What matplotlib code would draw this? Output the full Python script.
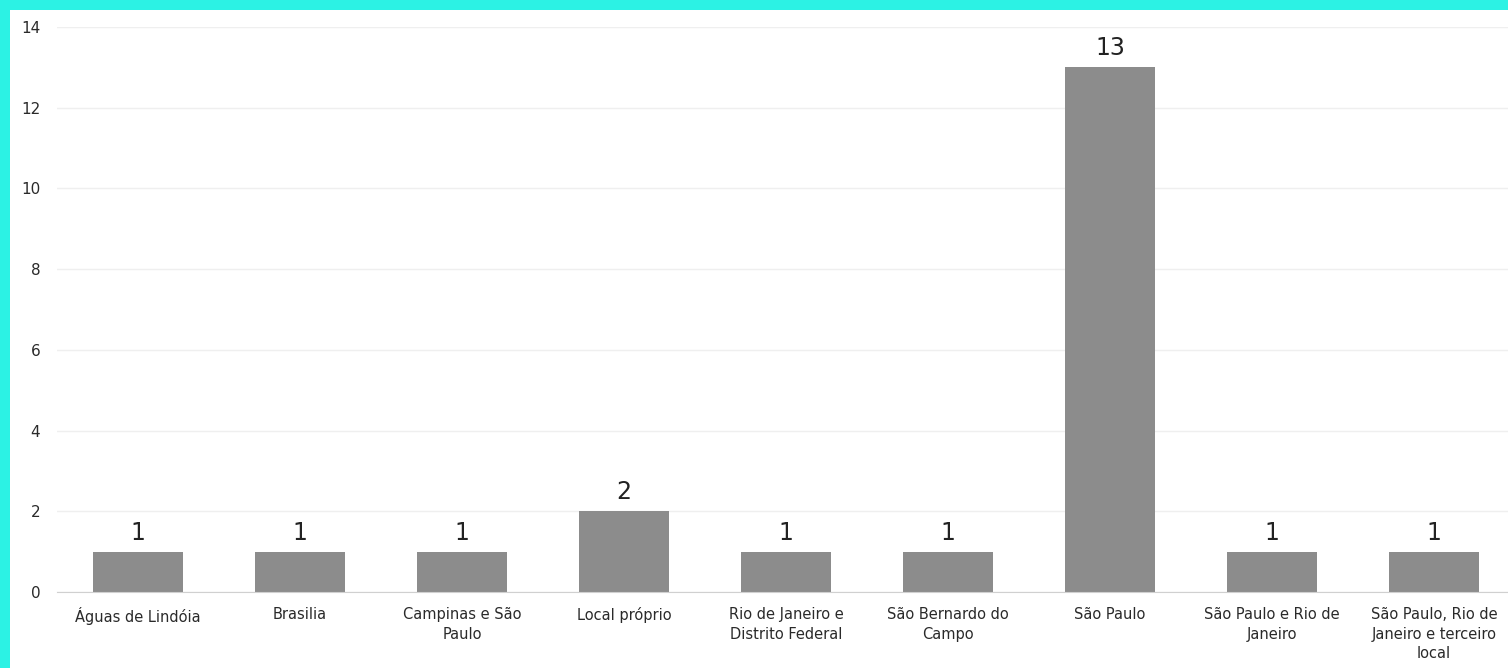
import numpy as np
import matplotlib
matplotlib.use("Agg")
import matplotlib.pyplot as plt
from matplotlib.patches import Rectangle

categories = ["Águas de Lindóia", "Brasilia", "Campinas e São\nPaulo", "Local próprio",
              "Rio de Janeiro e\nDistrito Federal", "São Bernardo do\nCampo", "São Paulo",
              "São Paulo e Rio de\nJaneiro", "São Paulo, Rio de\nJaneiro e terceiro\nlocal"]
counts = [1, 1, 1, 2, 1, 1, 13, 1, 1]
yticks = [0, 2, 4, 6, 8, 10, 12, 14]

plt.rcParams['font.family'] = ['DejaVu Sans']

W, H = 1508, 668
fig = plt.figure(figsize=(W/100, H/100), dpi=100, facecolor="#2cf2e4")
fig.patches.append(Rectangle((10/W, 0), 1, (H-10)/H, transform=fig.transFigure,
                             facecolor="white", edgecolor="none", zorder=-10))

ax = fig.add_axes([57/W, 76/H, (1515-57)/W, (592-27)/H])
ax.set_facecolor("none")
x = np.arange(len(categories))
ax.bar(x, counts, width=0.555, color="#8c8c8c", zorder=3)
for xi, v in zip(x, counts):
    ax.text(xi, v + 0.3, str(v), ha="center", va="baseline", fontsize=17, color="#222222")

ax.set_xlim(-0.5, len(categories) - 0.5)
ax.set_ylim(0, 14)
ax.set_yticks(yticks)
ax.set_xticks(x)
ax.set_xticklabels(categories, fontsize=10.5, color="#2a2a2a", linespacing=1.38)
ax.tick_params(axis="y", length=0, pad=12, labelsize=11, labelcolor="#2a2a2a")
ax.tick_params(axis="x", length=0, pad=11)
ax.grid(axis="y", color="#efefef", lw=1, zorder=0)
for s in ["top", "right", "left"]:
    ax.spines[s].set_visible(False)
ax.spines["bottom"].set_color("#d0d0d0")
ax.spines["bottom"].set_zorder(4)

fig.savefig("out.png", dpi=100, facecolor=fig.get_facecolor())
